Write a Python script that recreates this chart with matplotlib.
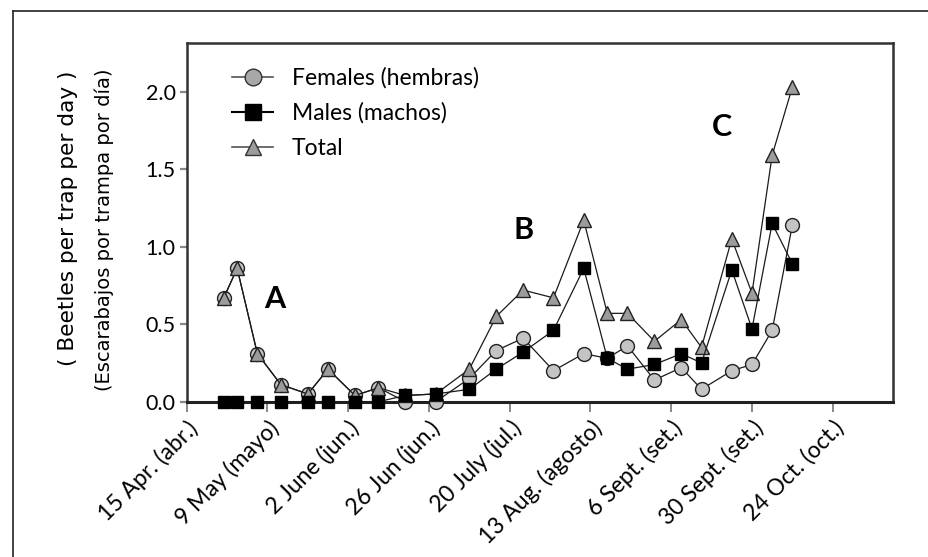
import matplotlib
matplotlib.use("Agg")
import matplotlib.pyplot as plt
from matplotlib.lines import Line2D

# ---- data (days after 15 April) ----
days = [11, 15, 21, 28, 36, 42, 50, 57, 65, 74, 84, 92, 100, 109, 118, 125,
        131, 139, 147, 153, 162, 168, 174, 180]
females = [0.67, 0.86, 0.31, 0.11, 0.05, 0.21, 0.04, 0.09, 0.00, 0.00, 0.15, 0.33,
           0.41, 0.20, 0.31, 0.28, 0.36, 0.14, 0.22, 0.08, 0.20, 0.24, 0.46, 1.14]
males = [0.00, 0.00, 0.00, 0.00, 0.00, 0.00, 0.00, 0.00, 0.04, 0.05, 0.08, 0.21,
         0.32, 0.46, 0.86, 0.28, 0.21, 0.24, 0.31, 0.25, 0.85, 0.47, 1.15, 0.89]
total = [0.67, 0.86, 0.31, 0.11, 0.05, 0.21, 0.04, 0.09, 0.04, 0.05, 0.21, 0.55,
         0.72, 0.67, 1.17, 0.57, 0.57, 0.39, 0.53, 0.35, 1.05, 0.70, 1.59, 2.03]
tick_days = [0, 24, 48, 72, 96, 120, 144, 168, 192]
tick_labels = ["15 Apr. (abr.)", "9 May (mayo)", "2 June (jun.)", "26 Jun (jun.)",
               "20 July (jul.)", "13 Aug. (agosto)", "6 Sept. (set.)",
               "30 Sept. (set.)", "24 Oct. (oct.)"]
yticks = [0.0, 0.5, 1.0, 1.5, 2.0]
series_names = ["Females (hembras)", "Males (machos)", "Total"]
annotations = [("A", 26.2, 0.66), ("B", 100.2, 1.11), ("C", 159.0, 1.77)]

FONT = "Lato"

fig = plt.figure(figsize=(9.29, 5.57), dpi=100)
ax = fig.add_axes([186.7 / 929, (557 - 401.7) / 557, (893.3 - 186.7) / 929, (401.7 - 42.7) / 557])

line_kw = dict(color="#1a1a1a", lw=0.9, clip_on=False)
ax.plot(days, females, marker="o", ms=10, mfc="#c4c4c4", mec="#222222", mew=1.0,
        zorder=3, **line_kw)
ax.plot(days, total, marker="^", ms=10, mfc="#9c9c9c", mec="#222222", mew=1.0,
        zorder=4, **line_kw)
ax.plot(days, males, marker="s", ms=8.8, mfc="black", mec="black", mew=1.0,
        zorder=5, **line_kw)

ax.set_xlim(0, 210)
ax.set_ylim(0, 2.316)
ax.set_xticks(tick_days)
ax.set_xticklabels(tick_labels, rotation=45, ha="right", rotation_mode="anchor",
                   fontsize=16.5, family=FONT)
ax.set_yticks(yticks)
ax.set_yticklabels([f"{v:.1f}" for v in yticks], fontsize=15.5, family=FONT)

for s in ["left", "top", "right"]:
    ax.spines[s].set_linewidth(1.8)
    ax.spines[s].set_color("#333333")
ax.spines["bottom"].set_linewidth(2.2)
ax.spines["bottom"].set_color("#222222")
ax.tick_params(axis="y", direction="out", length=5, width=1.6, color="#888888", pad=3)
ax.tick_params(axis="x", direction="out", length=7, width=1.4, color="#888888", pad=4)

# y label: two lines
fig.text(68 / 929, 1 - 218 / 557, "( Beetles per trap per day )", rotation=90,
         ha="center", va="center", fontsize=15.6, family="DejaVu Sans")
fig.text(104 / 929, 1 - 230 / 557, "(Escarabajos por trampa por día)", rotation=90,
         ha="center", va="center", fontsize=14, family="DejaVu Sans")

for lab, x, y in annotations:
    ax.text(x, y, lab, ha="center", va="center", fontsize=22, fontweight="bold",
            family=FONT)

handles = [
    Line2D([], [], color="#555555", lw=1.2, marker="o", ms=12, mfc="#a8a8a8", mec="#333333"),
    Line2D([], [], color="black", lw=1.5, marker="s", ms=12, mfc="black", mec="black"),
    Line2D([], [], color="#555555", lw=1.2, marker="^", ms=12, mfc="#9c9c9c", mec="#333333"),
]
leg = ax.legend(handles, series_names, loc="upper left", bbox_to_anchor=(0.064, 0.932),
                frameon=False, prop={"family": FONT, "size": 16.5}, handlelength=1.8,
                handletextpad=0.8, labelspacing=0.6, borderpad=0, borderaxespad=0)

# outer frame (top and left edges)
fig.add_artist(Line2D([13 / 929, 1], [1 - 10.7 / 557, 1 - 10.7 / 557],
                      transform=fig.transFigure, color="#222222", lw=1.2))
fig.add_artist(Line2D([13 / 929, 13 / 929], [0, 1 - 10.7 / 557],
                      transform=fig.transFigure, color="#222222", lw=1.2))

fig.savefig("out.png", dpi=100)
